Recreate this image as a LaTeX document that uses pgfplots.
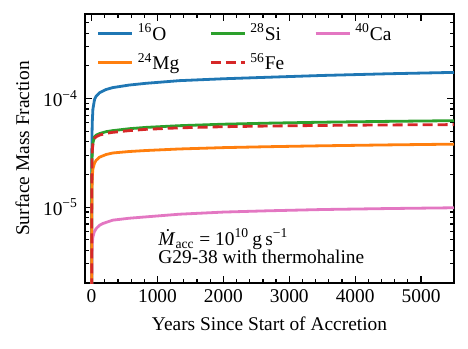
\documentclass[border=0pt]{standalone}
\usepackage{fontspec}
\setmainfont{Liberation Serif}
\usepackage{pgfplots}
\pgfplotsset{compat=1.18}
\definecolor{tabblue}{HTML}{1F77B4}
\definecolor{taborange}{HTML}{FF7F0E}
\definecolor{tabgreen}{HTML}{2CA02C}
\definecolor{tabred}{HTML}{D62728}
\definecolor{tabpink}{HTML}{E377C2}
\begin{document}
\begin{tikzpicture}[font=\fontsize{9.7}{11.5}\selectfont]
\begin{axis}[
 name=ax,
 width=184.5pt,height=134.5pt,scale only axis,
 ymode=log,
 xmin=-100,xmax=5500,ymin=2e-6,ymax=6e-4,
 xtick={0,1000,2000,3000,4000,5000},
 minor x tick num=4,
 ytick={1e-5,1e-4},
 yticklabels={10\textsuperscript{−5},10\textsuperscript{−4}},
 minor ytick={2e-6,3e-6,4e-6,5e-6,6e-6,7e-6,8e-6,9e-6,2e-5,3e-5,4e-5,5e-5,6e-5,7e-5,8e-5,9e-5,2e-4,3e-4,4e-4,5e-4,6e-4},
 /pgf/number format/assume math mode=true,
 xticklabel style={/pgf/number format/1000 sep={}},
 tick label style={font=\fontsize{9.7}{11.5}\selectfont},
 label style={font=\fontsize{9.7}{11.5}\selectfont},
 tick align=inside,
 major tick length=3.5pt,minor tick length=2pt,
 tick style={black,line width=0.6pt},
 axis line style={line width=0.9pt},
 xlabel={Years Since Start of Accretion},
 ylabel={Surface Mass Fraction},
 legend style={draw=none,fill=none,at={(0.015,0.995)},anchor=north west,
   font=\fontsize{9.7}{11.5}\selectfont,
   legend columns=3,row sep=1pt,
   /tikz/every even column/.append style={column sep=13pt}},
 legend cell align=left,
 every axis plot/.append style={line width=1.4pt},
]
\addplot[tabblue] coordinates {
 (0,1e-6) (3,2.5e-5) (6,4.5e-5) (10,6e-5) (20,8e-5) (45,9.8e-5) (70,1.05e-4)
 (120,1.13e-4) (220,1.21e-4) (320,1.26e-4) (570,1.33e-4) (825,1.38e-4)
 (1330,1.46e-4) (2000,1.52e-4) (2685,1.57e-4) (3500,1.63e-4) (4500,1.69e-4)
 (5500,1.74e-4)};
\addlegendentry{\textsuperscript{16}O}
\addplot[tabgreen] coordinates {
 (0,5e-7) (3,1.5e-5) (6,2.6e-5) (10,3.4e-5) (20,3.9e-5) (45,4.45e-5) (70,4.6e-5)
 (120,4.75e-5) (220,4.95e-5) (320,5.06e-5) (570,5.27e-5) (825,5.42e-5)
 (1330,5.62e-5) (2000,5.8e-5) (2685,5.93e-5) (3500,6.05e-5) (4500,6.16e-5)
 (5500,6.25e-5)};
\addlegendentry{\textsuperscript{28}Si}
\addplot[tabpink] coordinates {
 (0,1e-7) (3,2e-6) (6,3.5e-6) (10,4.6e-6) (20,5.3e-6) (40,5.9e-6) (70,6.35e-6)
 (120,6.8e-6) (170,7.06e-6) (320,7.58e-6) (570,7.9e-6) (825,8.13e-6)
 (1330,8.6e-6) (2000,9.0e-6) (2685,9.25e-6) (3500,9.5e-6) (4500,9.7e-6)
 (5500,9.86e-6)};
\addlegendentry{\textsuperscript{40}Ca}
\addplot[taborange] coordinates {
 (0,3e-7) (3,8e-6) (6,1.4e-5) (10,1.9e-5) (20,2.25e-5) (45,2.55e-5) (70,2.7e-5)
 (120,2.88e-5) (220,3.05e-5) (320,3.15e-5) (570,3.25e-5) (825,3.32e-5)
 (1330,3.43e-5) (2000,3.53e-5) (2685,3.6e-5) (3500,3.67e-5) (4500,3.74e-5)
 (5500,3.8e-5)};
\addlegendentry{\textsuperscript{24}Mg}
\addplot[tabred,dashed,dash pattern=on 5pt off 2.5pt] coordinates {
 (0,5e-7) (3,1.5e-5) (6,2.55e-5) (10,3.3e-5) (20,3.8e-5) (45,4.3e-5) (70,4.45e-5)
 (120,4.6e-5) (220,4.78e-5) (320,4.88e-5) (570,5.06e-5) (825,5.2e-5)
 (1330,5.37e-5) (2000,5.5e-5) (2685,5.58e-5) (3500,5.65e-5) (4500,5.71e-5)
 (5500,5.75e-5)};
\addlegendentry{\textsuperscript{56}Fe}
\node[anchor=base west,inner sep=0pt] at (axis description cs:0.198,0.141)
 {\textit{\.M}\textsubscript{acc} = 10\textsuperscript{10}\,g\,s\textsuperscript{−1}};
\node[anchor=base west,inner sep=0pt] at (axis description cs:0.198,0.071)
 {G29-38 with thermohaline};
\end{axis}
\useasboundingbox ([xshift=-42.5pt,yshift=-32.5pt]ax.south west) rectangle ([xshift=7pt,yshift=7pt]ax.north east);
\end{tikzpicture}
\end{document}
